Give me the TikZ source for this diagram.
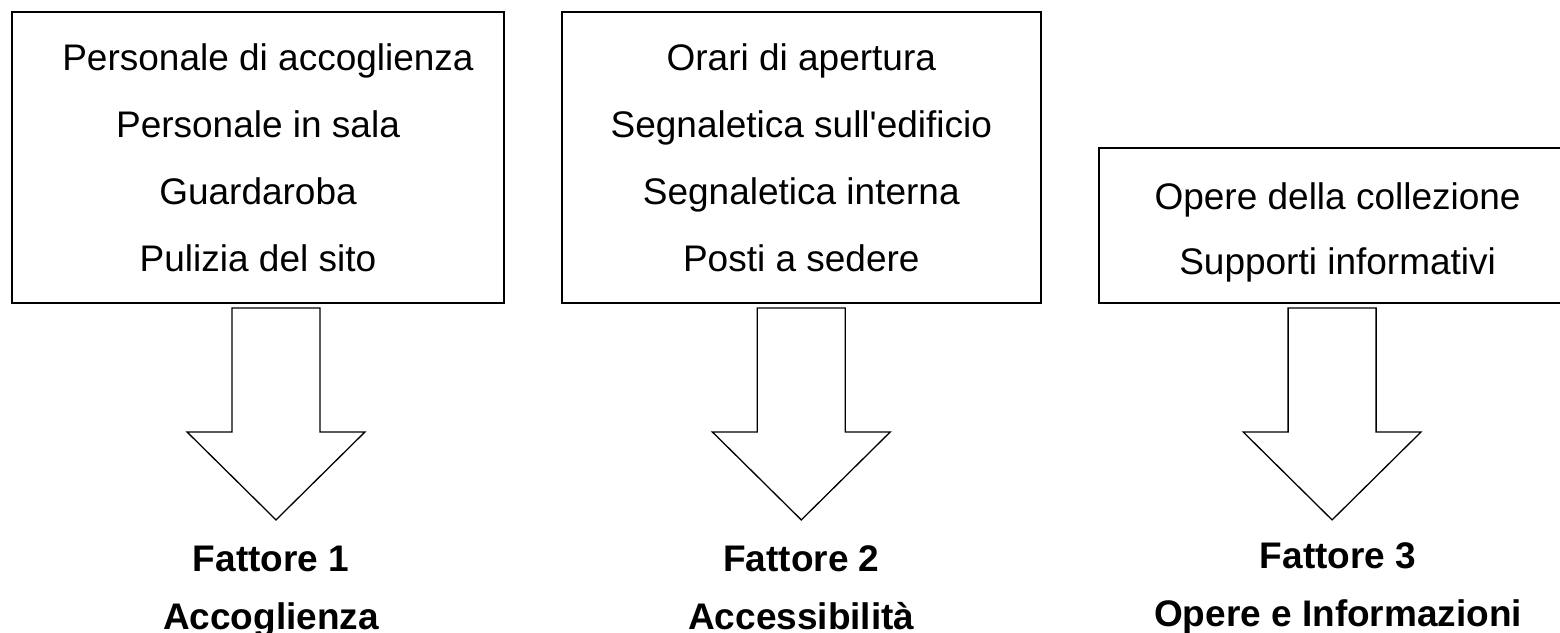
\documentclass[tikz,border=0pt]{standalone}
\usepackage{fontspec}
\setmainfont{Liberation Sans}[Ligatures=TeXOff]
\usetikzlibrary{positioning}
\tikzset{
  itembox/.style={draw, line width=1.8pt, align=center, inner sep=0pt,
    font=\fontsize{37}{67}\selectfont},
  factor/.style={align=center, inner sep=0pt,
    font=\bfseries\fontsize{37}{58}\selectfont},
  bigarrow/.pic={
    \draw[line width=1.3pt] (-44,0) -- (-44,124) -- (-89,124) -- (0,212)
      -- (89,124) -- (44,124) -- (44,0) -- cycle;
    \coordinate (-tip) at (0,212);
  }
}

\begin{document}
\begin{tikzpicture}[x=1pt, y=-1pt]
  \useasboundingbox (0,0) rectangle (1560,632);
  % the three groups of items
  \node[itembox, minimum width=492pt, minimum height=291pt] (acc) at (258,157.5)
    {\hspace*{20pt}Personale di accoglienza\\Personale in sala\\Guardaroba\\Pulizia del sito};
  \node[itembox, minimum width=479pt, minimum height=291pt, right=56pt of acc] (access)
    {Orari di apertura\\Segnaletica sull'edificio\\Segnaletica interna\\Posti a sedere};
  \node[itembox, minimum width=478pt, minimum height=155pt, anchor=south west,
    font=\fontsize{37}{65}\selectfont] (opere) at ([xshift=56pt]access.south east)
    {\rule{0pt}{40pt}Opere della collezione\\Supporti informativi};
  % block arrows
  \pic (a1) at ([xshift=18pt, yshift=-4pt]acc.south) {bigarrow};
  \pic (a2) at ([yshift=-4pt]access.south) {bigarrow};
  \pic (a3) at ([xshift=-5.5pt, yshift=-4pt]opere.south) {bigarrow};
  % factors
  \node[factor, anchor=north] (f1) at ([xshift=-5pt, yshift=-26pt]a1-tip) {Fattore 1\\Accoglienza};
  \node[factor, anchor=north] (f2) at ([yshift=-26pt]a2-tip) {Fattore 2\\Accessibilità};
  \node[factor, anchor=north] (f3) at ([xshift=6pt, yshift=-23pt]a3-tip) {Fattore 3\\Opere e Informazioni};
\end{tikzpicture}
\end{document}
